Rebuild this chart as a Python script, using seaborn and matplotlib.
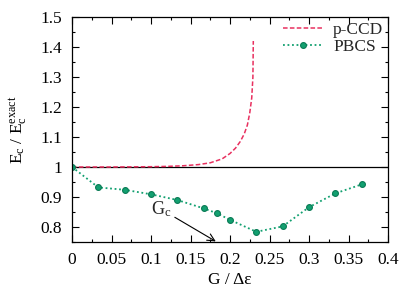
import numpy as np
import pandas as pd
import matplotlib
matplotlib.use('Agg')
import matplotlib.pyplot as plt
import seaborn as sns
from matplotlib.lines import Line2D
from matplotlib.ticker import MultipleLocator, FuncFormatter

# p-CCD curve
pccd_g = [0.0, 0.05, 0.1, 0.12, 0.14, 0.16, 0.175, 0.19, 0.2, 0.207, 0.213,
          0.218, 0.222, 0.225, 0.2275, 0.229, 0.2295]
pccd_e = [1.0, 1.0, 1.001, 1.002, 1.004, 1.008, 1.014, 1.027, 1.045, 1.063, 1.085,
          1.11, 1.14, 1.18, 1.23, 1.3, 1.42]

# PBCS points
pbcs_g = [0.0, 0.0333, 0.0667, 0.1, 0.1333, 0.1667, 0.1833, 0.2, 0.2333,
          0.2667, 0.3, 0.3333, 0.3667]
pbcs_e = [1.0, 0.932, 0.924, 0.909, 0.89, 0.862, 0.846, 0.824, 0.784,
          0.802, 0.866, 0.912, 0.942]

red = '#e8305f'
green = '#12a070'
dkgreen = '#0b7a55'

sns.set_theme(style='ticks')
plt.rcParams['font.family'] = ['Liberation Serif', 'DejaVu Serif']
plt.rcParams['mathtext.fontset'] = 'custom'
plt.rcParams['mathtext.rm'] = 'Liberation Serif'
plt.rcParams['mathtext.it'] = 'Liberation Serif'

fig = plt.figure(figsize=(4.15, 2.9), dpi=100)
ax = fig.add_axes([72/415, 1-242/290, 316/415, 225/290])

df1 = pd.DataFrame({'g': pccd_g, 'e': pccd_e})
df2 = pd.DataFrame({'g': pbcs_g, 'e': pbcs_e})

dash = (0, (3, 1.5))
dot = (0, (1, 1.5))

ax.axhline(1.0, color='black', lw=0.9, zorder=1)
sns.lineplot(data=df1, x='g', y='e', ax=ax, color=red, lw=1.1,
             linestyle=dash, legend=False)
sns.lineplot(data=df2, x='g', y='e', ax=ax, color=green, lw=1.3,
             linestyle=dot, marker='o', markersize=4.2,
             markerfacecolor=green, markeredgecolor=dkgreen, markeredgewidth=0.8,
             legend=False)

ax.annotate('G$_\\mathrm{c}$', xy=(0.182, 0.752), xytext=(0.126, 0.826),
            fontsize=13, ha='right', va='bottom',
            arrowprops=dict(arrowstyle='->', color='black', lw=0.8,
                            shrinkA=0, shrinkB=0))

ax.set_xlim(0, 0.4)
ax.set_ylim(0.75, 1.5)
ax.xaxis.set_major_locator(MultipleLocator(0.05))
ax.xaxis.set_minor_locator(MultipleLocator(0.025))
ax.yaxis.set_major_locator(MultipleLocator(0.1))
ax.yaxis.set_minor_locator(MultipleLocator(0.05))
fmt = FuncFormatter(lambda v, p: ('%.2f' % v).rstrip('0').rstrip('.'))
ax.xaxis.set_major_formatter(fmt)
ax.yaxis.set_major_formatter(fmt)
ax.tick_params(which='both', direction='in', top=True, right=True,
               labelsize=12.5, color='black', labelcolor='black', width=0.8)
ax.tick_params(which='major', length=5, pad=7)
ax.tick_params(which='minor', length=2.5)
for s in ax.spines.values():
    s.set_color('black')
    s.set_linewidth(0.9)

ax.set_xlabel('G / \u0394\u03b5', fontsize=12.5, color='black', labelpad=3)
ax.set_ylabel('E$_\\mathrm{c}$ / E$_\\mathrm{c}^\\mathrm{exact}$', fontsize=12.5,
              color='black', labelpad=8)

handles = [Line2D([0], [0], color=red, lw=1.1, linestyle=dash),
           Line2D([0], [0], color=green, lw=1.3, linestyle=dot, marker='o',
                  markersize=4.2, markerfacecolor=green, markeredgecolor=dkgreen,
                  markeredgewidth=0.8)]
ax.legend(handles=handles, labels=['p-CCD', 'PBCS'], loc='upper right',
          bbox_to_anchor=(1.013, 1.018), frameon=False, fontsize=12.5,
          handlelength=2.3, numpoints=1, handletextpad=0.6,
          borderaxespad=0.1, labelspacing=0.05)

fig.savefig('out.png', dpi=100)
